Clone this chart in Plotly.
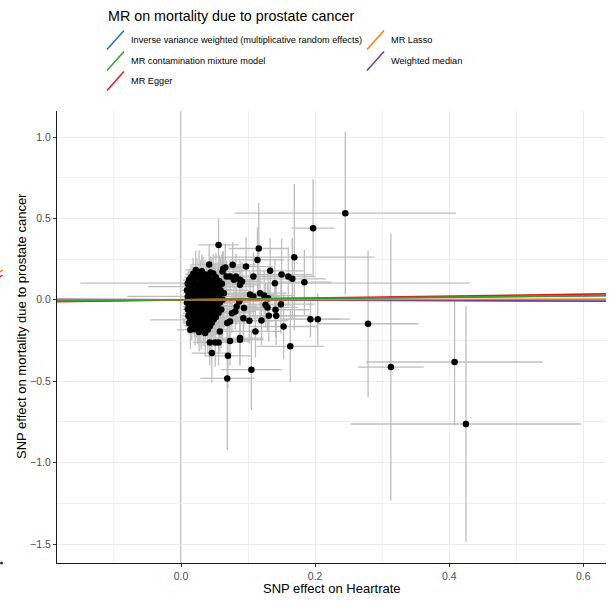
import plotly.graph_objects as go

# ---------------- data ----------------
# SNP effect on exposure (Heartrate)
beta_exp = [
    # dense cluster
    0.022, 0.031,
    0.018, 0.027, 0.036, 0.048,
    0.015, 0.024, 0.033, 0.041, 0.052,
    0.012, 0.020, 0.029, 0.038, 0.046, 0.057,
    0.010, 0.017, 0.026, 0.034, 0.043, 0.050, 0.061,
    0.013, 0.021, 0.030, 0.039, 0.047, 0.055,
    0.009, 0.016, 0.025, 0.033, 0.042, 0.051, 0.059,
    0.012, 0.020, 0.028, 0.037, 0.045, 0.054, 0.064,
    0.010, 0.018, 0.026, 0.034, 0.041, 0.049, 0.057,
    0.013, 0.022, 0.030, 0.038, 0.046, 0.053, 0.062,
    0.009, 0.017, 0.025, 0.033, 0.042, 0.050, 0.058,
    0.012, 0.021, 0.029, 0.037, 0.045, 0.054,
    0.010, 0.018, 0.026, 0.035, 0.043, 0.051, 0.060,
    0.013, 0.022, 0.030, 0.039, 0.047, 0.056,
    0.011, 0.019, 0.027, 0.036, 0.044, 0.052,
    0.014, 0.023, 0.031, 0.040, 0.049,
    0.012, 0.020, 0.028, 0.037, 0.046,
    0.016, 0.025, 0.034, 0.043,
    0.021, 0.030, 0.040,
    0.027, 0.036,
    # scattered SNPs
    0.245, 0.197, 0.056, 0.116, 0.114, 0.169, 0.042, 0.066, 0.077, 0.097,
    0.133, 0.150, 0.160, 0.166, 0.184, 0.140, 0.108, 0.062, 0.068, 0.082,
    0.091, 0.088, 0.044, 0.063, 0.088, 0.079, 0.073, 0.124, 0.103, 0.108,
    0.118, 0.130, 0.149, 0.126, 0.129, 0.141, 0.131, 0.142, 0.153, 0.193,
    0.204, 0.279, 0.120, 0.102, 0.094, 0.111, 0.163, 0.088, 0.073, 0.058,
    0.043, 0.051, 0.056, 0.046, 0.070, 0.105, 0.069, 0.014, 0.313, 0.408,
    0.425, 0.076, 0.081, 0.073, 0.069, 0.093, 0.087, 0.083, 0.023, 0.033,
    0.088,
]
# SNP effect on outcome (mortality due to prostate cancer)
beta_out = [
    0.183, 0.176,
    0.158, 0.165, 0.155, 0.162,
    0.138, 0.145, 0.136, 0.143, 0.139,
    0.121, 0.116, 0.124, 0.118, 0.122, 0.115,
    0.098, 0.104, 0.096, 0.101, 0.097, 0.105, 0.099,
    0.083, 0.077, 0.081, 0.076, 0.084, 0.079,
    0.058, 0.063, 0.057, 0.061, 0.056, 0.062, 0.058,
    0.041, 0.036, 0.043, 0.038, 0.042, 0.037, 0.041,
    0.018, 0.023, 0.017, 0.021, 0.016, 0.022, 0.019,
    0.002, -0.003, 0.004, -0.002, 0.003, -0.004, 0.001,
    -0.018, -0.023, -0.017, -0.022, -0.019, -0.024, -0.016,
    -0.042, -0.037, -0.043, -0.038, -0.041, -0.036,
    -0.058, -0.063, -0.057, -0.062, -0.056, -0.061, -0.059,
    -0.083, -0.077, -0.082, -0.078, -0.084, -0.079,
    -0.098, -0.104, -0.097, -0.102, -0.099, -0.105,
    -0.118, -0.123, -0.117, -0.122, -0.119,
    -0.142, -0.137, -0.143, -0.138, -0.141,
    -0.158, -0.163, -0.157, -0.162,
    -0.181, -0.176, -0.183,
    -0.198, -0.204,
    0.532, 0.440, 0.337, 0.315, 0.245, 0.262, 0.217, 0.198, 0.215, 0.204,
    0.178, 0.155, 0.143, 0.129, 0.108, 0.102, 0.143, 0.174, 0.143, 0.143,
    0.112, 0.092, 0.168, 0.190, 0.123, 0.123, 0.143, 0.026, 0.033, 0.020,
    0.041, 0.010, -0.027, -0.031, -0.047, -0.061, -0.098, -0.098, -0.164, -0.119,
    -0.119, -0.147, -0.127, -0.129, -0.051, -0.194, -0.286, -0.245, -0.253, -0.194,
    -0.262, -0.262, -0.262, -0.327, -0.344, -0.429, -0.483, -0.184, -0.413, -0.382,
    -0.763, -0.082, -0.072, -0.133, -0.143, -0.113, -0.010, -0.041, -0.133, -0.164,
    -0.235,
]
# standard errors
se_exp = [
    0.015, 0.020,
    0.012, 0.018, 0.022, 0.030,
    0.010, 0.016, 0.025, 0.020, 0.035,
    0.009, 0.014, 0.020, 0.028, 0.018, 0.040,
    0.008, 0.012, 0.018, 0.024, 0.030, 0.022, 0.045,
    0.010, 0.015, 0.079, 0.026, 0.020, 0.038,
    0.008, 0.012, 0.017, 0.023, 0.030, 0.025, 0.042,
    0.009, 0.014, 0.020, 0.027, 0.022, 0.035, 0.050,
    0.008, 0.013, 0.019, 0.114, 0.028, 0.024, 0.040,
    0.010, 0.068, 0.020, 0.026, 0.032, 0.030, 0.048,
    0.008, 0.013, 0.018, 0.024, 0.030, 0.027, 0.044,
    0.009, 0.015, 0.021, 0.027, 0.034, 0.040,
    0.008, 0.012, 0.019, 0.025, 0.022, 0.036, 0.046,
    0.010, 0.016, 0.021, 0.028, 0.035, 0.042,
    0.009, 0.014, 0.020, 0.026, 0.031, 0.038,
    0.011, 0.069, 0.022, 0.028, 0.036,
    0.010, 0.015, 0.020, 0.027, 0.033,
    0.012, 0.018, 0.024, 0.030,
    0.015, 0.021, 0.028,
    0.018, 0.025,
    0.165, 0.032, 0.030, 0.045, 0.040, 0.120, 0.025, 0.030, 0.035, 0.040,
    0.050, 0.045, 0.040, 0.050, 0.040, 0.290, 0.040, 0.030, 0.025, 0.035,
    0.030, 0.030, 0.020, 0.025, 0.030, 0.030, 0.025, 0.045, 0.040, 0.035,
    0.040, 0.045, 0.050, 0.040, 0.045, 0.050, 0.045, 0.050, 0.050, 0.045,
    0.048, 0.075, 0.040, 0.035, 0.035, 0.040, 0.050, 0.035, 0.030, 0.030,
    0.025, 0.025, 0.030, 0.030, 0.035, 0.045, 0.040, 0.020, 0.049, 0.132,
    0.172, 0.030, 0.030, 0.030, 0.030, 0.035, 0.030, 0.030, 0.020, 0.025,
    0.035,
]
se_out = [
    0.12, 0.10,
    0.10, 0.14, 0.09, 0.12,
    0.08, 0.11, 0.13, 0.09, 0.15,
    0.07, 0.09, 0.12, 0.10, 0.14, 0.16,
    0.06, 0.08, 0.10, 0.13, 0.09, 0.12, 0.18,
    0.07, 0.09, 0.08, 0.11, 0.13, 0.15,
    0.05, 0.08, 0.10, 0.09, 0.12, 0.14, 0.20,
    0.06, 0.07, 0.09, 0.12, 0.10, 0.15, 0.22,
    0.05, 0.07, 0.08, 0.10, 0.11, 0.13, 0.17,
    0.06, 0.08, 0.09, 0.11, 0.12, 0.16, 0.25,
    0.05, 0.07, 0.09, 0.10, 0.13, 0.14, 0.21,
    0.06, 0.08, 0.10, 0.12, 0.11, 0.18,
    0.05, 0.08, 0.09, 0.11, 0.14, 0.15, 0.24,
    0.07, 0.09, 0.11, 0.10, 0.14, 0.19,
    0.06, 0.08, 0.10, 0.13, 0.12, 0.17,
    0.08, 0.09, 0.11, 0.14, 0.16,
    0.07, 0.09, 0.12, 0.11, 0.15,
    0.09, 0.11, 0.13, 0.16,
    0.10, 0.13, 0.15,
    0.12, 0.14,
    0.50, 0.30, 0.16, 0.28, 0.20, 0.45, 0.12, 0.15, 0.14, 0.18,
    0.20, 0.22, 0.18, 0.25, 0.20, 0.15, 0.15, 0.12, 0.10, 0.14,
    0.12, 0.10, 0.10, 0.11, 0.12, 0.11, 0.10, 0.16, 0.14, 0.12,
    0.15, 0.16, 0.18, 0.14, 0.15, 0.17, 0.16, 0.18, 0.20, 0.11,
    0.16, 0.45, 0.15, 0.14, 0.12, 0.16, 0.22, 0.16, 0.15, 0.13,
    0.14, 0.15, 0.14, 0.18, 0.20, 0.25, 0.44, 0.12, 0.82, 0.39,
    0.725, 0.12, 0.11, 0.12, 0.13, 0.13, 0.12, 0.11, 0.10, 0.12,
    0.16,
]

# MR method estimates (intercept, slope)
methods = ["Inverse variance weighted (multiplicative random effects)",
           "MR contamination mixture model", "MR Egger",
           "MR Lasso", "Weighted median"]
method_colors = ["#1F78B4", "#33A02C", "#E31A1C", "#FF7F00", "#6A3D9A"]
intercepts = [0.0, 0.0, -0.0005, 0.0, 0.0]
slopes = [0.040, 0.042, 0.058, 0.007, -0.013]
draw_order = [0, 2, 4, 3, 1]

x_ticks = [0.0, 0.2, 0.4, 0.6]
y_ticks = [-1.5, -1.0, -0.5, 0.0, 0.5, 1.0]

title_text = "MR on mortality due to prostate cancer"
x_title = "SNP effect on Heartrate"
y_title = "SNP effect on mortality due to prostate cancer"

# ---------------- layout geometry ----------------
W, H = 611, 601
ML, MR_, MT, MB = 57, 5, 111, 38
PW, PH = W - ML - MR_, H - MT - MB
x_range = [-0.18494, 0.63386]
y_range = [-1.6167, 1.1597]


def px(xp):
    return (xp - ML) / PW


def py(yp):
    return (H - MB - yp) / PH


FONT = "Liberation Sans, Arial, Helvetica, sans-serif"

fig = go.Figure()
fig.add_trace(go.Scatter(
    x=beta_exp, y=beta_out, mode="markers",
    marker=dict(color="black", size=6.5, line=dict(width=0)),
    error_x=dict(type="data", array=se_exp, color="#BEBEBE", thickness=1.3, width=0),
    error_y=dict(type="data", array=se_out, color="#BEBEBE", thickness=1.3, width=0),
    showlegend=False, name="SNPs"))

for i in draw_order:
    fig.add_trace(go.Scatter(
        x=x_range, y=[intercepts[i] + slopes[i] * v for v in x_range],
        mode="lines", line=dict(color=method_colors[i], width=1.6),
        name=methods[i], showlegend=False))

shapes = [dict(type="line", xref="x", yref="paper", x0=0, x1=0, y0=0, y1=1,
               line=dict(color="#8C8C8C", width=1), layer="below")]
annotations = []

# legend (ggplot style with diagonal keys)
annotations.append(dict(text=title_text, xref="paper", yref="paper",
                        x=px(106), y=py(16), xanchor="left", yanchor="middle",
                        showarrow=False, font=dict(size=14.3, color="black", family=FONT)))
legend_pos = [(0, 40), (0, 61), (0, 81), (1, 40), (1, 61)]
col_glyph_x = [107, 367]
col_text_x = [129, 389]
for i, (c, yc) in enumerate(legend_pos):
    gx = col_glyph_x[c]
    shapes.append(dict(type="line", xref="paper", yref="paper",
                       x0=px(gx), y0=py(yc + 9.5), x1=px(gx + 17), y1=py(yc - 9.5),
                       line=dict(color=method_colors[i], width=1.5)))
    annotations.append(dict(text=methods[i], xref="paper", yref="paper",
                            x=px(col_text_x[c]), y=py(yc), xanchor="left", yanchor="middle",
                            showarrow=False, font=dict(size=9.2, color="black", family=FONT)))

# axis titles
annotations.append(dict(text=x_title, xref="paper", yref="paper",
                        x=px(331.5), y=py(588), xanchor="center", yanchor="middle",
                        showarrow=False, font=dict(size=13, color="black", family=FONT)))
annotations.append(dict(text=y_title, xref="paper", yref="paper",
                        x=px(21), y=py(326), xanchor="center", yanchor="middle",
                        textangle=-90, showarrow=False,
                        font=dict(size=13, color="black", family=FONT)))

# clipped remnants at the far left edge of the reference
shapes += [
    dict(type="line", xref="paper", yref="paper", x0=px(0), y0=py(272), x1=px(3), y1=py(270),
         line=dict(color="#FF7F00", width=1.5)),
    dict(type="line", xref="paper", yref="paper", x0=px(0), y0=py(277), x1=px(2.5), y1=py(275),
         line=dict(color="#E31A1C", width=1.5)),
    dict(type="circle", xref="paper", yref="paper", x0=px(0), y0=py(564.5), x1=px(3), y1=py(561.5),
         fillcolor="#333333", line=dict(width=0)),
]

axis_common = dict(showline=True, linecolor="#1A1A1A", linewidth=1.1,
                   ticks="outside", ticklen=3, tickcolor="#333333", tickwidth=1,
                   tickfont=dict(size=10.5, color="#4D4D4D", family=FONT),
                   showgrid=True, gridcolor="#EBEBEB", gridwidth=1, zeroline=False,
                   tickformat=".1f", mirror=False)

fig.update_layout(
    width=W, height=H,
    margin=dict(l=ML, r=MR_, t=MT, b=MB, pad=0),
    paper_bgcolor="white", plot_bgcolor="white",
    font=dict(family=FONT),
    showlegend=False,
    xaxis=dict(range=x_range, tickvals=x_ticks, **axis_common,
               minor=dict(tickvals=[-0.1, 0.1, 0.3, 0.5], showgrid=True,
                          gridcolor="#F0F0F0", gridwidth=1, ticks="")),
    yaxis=dict(range=y_range, tickvals=y_ticks, **axis_common,
               minor=dict(tickvals=[-1.25, -0.75, -0.25, 0.25, 0.75], showgrid=True,
                          gridcolor="#F0F0F0", gridwidth=1, ticks="")),
    shapes=shapes, annotations=annotations,
)

fig.write_html("out.html", config={"displayModeBar": False},
               post_script="document.body.style.margin='0px';document.body.style.overflow='hidden';")
